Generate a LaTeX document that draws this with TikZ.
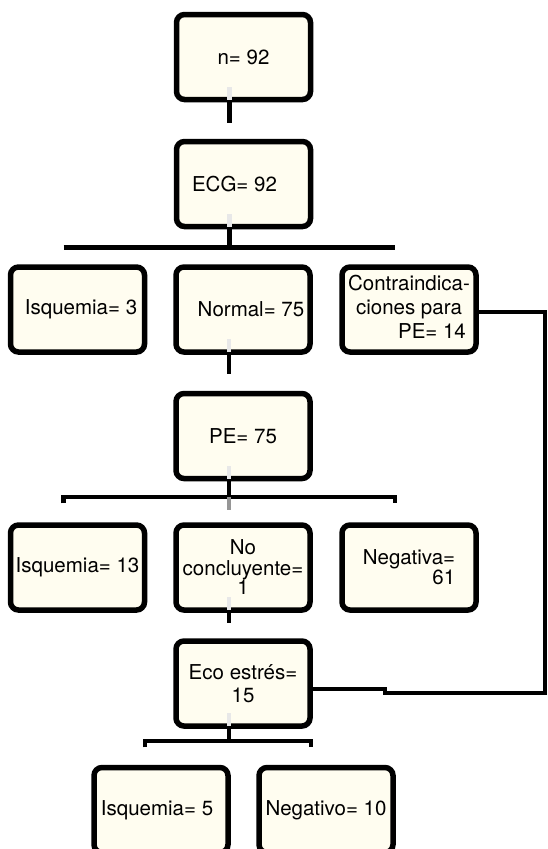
\documentclass[tikz,border=0pt]{standalone}
\usepackage{fontspec}
\setmainfont{TeX Gyre Heros}
\usepackage{tikz}
\usetikzlibrary{positioning}
\definecolor{FlowBoxFill}{RGB}{255,253,240}
\definecolor{FlowStubLight}{RGB}{232,232,232}
\definecolor{FlowStubDark}{RGB}{150,150,150}

\begin{document}
\begin{tikzpicture}[x=1pt,y=-1pt,
  box/.style={draw,fill=FlowBoxFill,line width=5.5pt,rounded corners=8pt,minimum width=134pt,minimum height=85pt,inner sep=2pt,font=\fontsize{20.5}{23}\selectfont},
  conn/.style={line width=4.5pt},
  stub/.style={line width=4.5pt,#1},stub/.default=FlowStubLight]
\useasboundingbox (0,0) rectangle (547,849);
\clip (0,0) rectangle (547,849);
% boxes
\node[box] (n) at (243.5,57) {n= 92};
\node[box] (ecg) at (243.5,184) {ECG= 92\hspace*{18pt}};
\node[box] (isqA) at (77.5,309.5) {\hspace*{7pt}Isquemia= 3};
\node[box] (normal) at (243,309.5) {\hspace*{16pt}Normal= 75};
\node[box] (contra) at (409,309.5) {\begin{tabular}{@{}c@{}}Contraindica-\\[1pt]ciones para\\[1pt]\multicolumn{1}{@{}r@{}}{PE= 14\hspace*{4pt}}\end{tabular}};
\node[box] (pe) at (243,436) {PE= 75};
\node[box] (isqB) at (77.5,567.5) {Isquemia= 13};
\node[box,align=center] (nocon) at (243,567.5) {No\\[-2pt]concluyente=\\[-4pt]1};
\node[box,align=right,font=\fontsize{20.5}{20}\selectfont] (negA) at (409,567.5) {Negativa=\\61};
\node[box,align=center] (eco) at (243,683.5) {Eco estrés=\\15};
\node[box] (isqC) at (161,810) {Isquemia= 5\hspace*{8pt}};
\node[box] (negB) at (326,810) {Negativo= 10};
% connectors
\coordinate (ecgbar) at ([xshift=-14pt,yshift=-18pt]ecg.south);
\coordinate (pebar) at ([xshift=-14pt,yshift=-15.5pt]pe.south);
\coordinate (ecobar) at ([xshift=-14pt,yshift=-12pt]eco.south);
\coordinate (rside) at (545,0);
\draw[conn,shorten >=16pt] ([xshift=-14pt]n.south) -- ([xshift=-14pt]ecg.north);
\draw[conn] ([xshift=-14pt]ecg.south) -- (ecgbar);
\draw[conn] ([xshift=-14pt,yshift=17pt]isqA.north) |- (ecgbar) -| ([xshift=-14pt,yshift=17pt]contra.north);
\draw[conn,shorten >=17pt] ([xshift=-14pt]normal.south) -- ([xshift=-14pt]pe.north);
\draw[conn] ([xshift=-14pt]pe.south) -- (pebar);
\draw[conn] ([xshift=-14pt,yshift=19pt]isqB.north) |- (pebar) -| ([xshift=-14pt,yshift=19pt]negA.north);
\draw[conn,shorten >=15pt] ([xshift=-14pt]nocon.south) -- ([xshift=-14pt]eco.north);
\draw[conn] ([xshift=-14pt]eco.south) -- (ecobar);
\draw[conn] ([xshift=-16pt,yshift=17.5pt]isqC.north) |- (ecobar) -| ([xshift=-15pt,yshift=17.5pt]negB.north);
\draw[line width=4pt] ([yshift=-2.5pt]contra.east) -| ([yshift=-9.5pt]eco.east -| rside)
   -- ([xshift=72pt,yshift=-9.5pt]eco.east) -- ([xshift=72pt,yshift=-5.5pt]eco.east) -- ([yshift=-5.5pt]eco.east);
% grey stubs
\foreach \b in {n,ecg,normal,pe,nocon,eco} {
   \draw[stub] ([xshift=-14pt,yshift=2.75pt]\b.south) -- ++(0,-13);
}
\draw[stub=FlowStubDark] ([yshift=-0.5pt]pebar) -- ++(0,12.5);
\end{tikzpicture}
\end{document}
